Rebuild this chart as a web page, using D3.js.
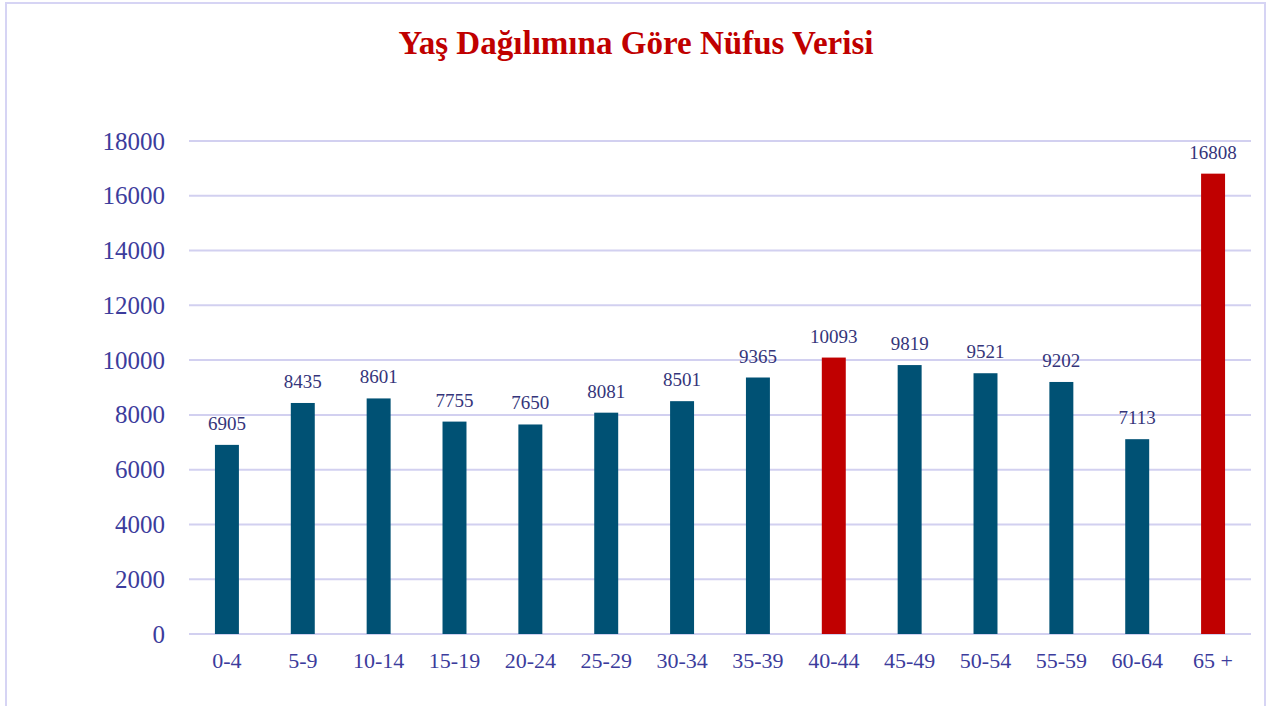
<!DOCTYPE html>
<html>
<head>
<meta charset="utf-8">
<script src="https://cdn.jsdelivr.net/npm/d3@7/dist/d3.min.js"></script>
<style>
  html, body { margin: 0; padding: 0; background: #fff; }
  svg { display: block; }
</style>
</head>
<body>
<div id="chart"></div>
<script>
// data
var ageGroups = ["0-4", "5-9", "10-14", "15-19", "20-24", "25-29", "30-34",
  "35-39", "40-44", "45-49", "50-54", "55-59", "60-64", "65 +"];
var population = [6905, 8435, 8601, 7755, 7650, 8081, 8501,
  9365, 10093, 9819, 9521, 9202, 7113, 16808];
var highlighted = ["40-44", "65 +"];
var yTicks = [0, 2000, 4000, 6000, 8000, 10000, 12000, 14000, 16000, 18000];
var chartTitle = "Yaş Dağılımına Göre Nüfus Verisi";

var width = 1270, height = 706;
var margin = {top: 141, right: 20, bottom: 72, left: 189};
var plotW = 1251 - margin.left, plotH = 634 - margin.top;

var svg = d3.select("#chart").append("svg")
  .attr("width", width)
  .attr("height", height);

// outer frame
svg.append("rect")
  .attr("x", 6).attr("y", 3)
  .attr("width", 1259).attr("height", 720)
  .attr("fill", "none")
  .attr("stroke", "#d6d4f4")
  .attr("stroke-width", 2);

// title
var title = svg.append("text")
  .attr("x", 636).attr("y", 54)
  .attr("text-anchor", "middle")
  .attr("font-family", "Liberation Serif, serif")
  .attr("font-weight", "bold")
  .attr("font-size", 32)
  .attr("fill", "#c00000")
  .text(chartTitle);
var tw = title.node().getComputedTextLength();
title.attr("font-size", 32 * 475 / tw);

var g = svg.append("g")
  .attr("transform", "translate(" + margin.left + "," + margin.top + ")");

var x = d3.scaleBand().domain(ageGroups).range([0, plotW]).paddingInner(0.684).paddingOuter(0.342);
var y = d3.scaleLinear().domain([0, 18000]).range([plotH, 0]);

// gridlines
g.selectAll(".grid")
  .data(yTicks)
  .enter().append("line")
  .attr("x1", 0).attr("x2", plotW)
  .attr("y1", function(d) { return y(d); })
  .attr("y2", function(d) { return y(d); })
  .attr("stroke", "#d2d0f0")
  .attr("stroke-width", 2);

// y axis labels
var yAxis = g.append("g")
  .call(d3.axisLeft(y).tickValues(yTicks).tickSize(0).tickPadding(24).tickFormat(d3.format("d")));
yAxis.select(".domain").remove();
yAxis.selectAll("text")
  .attr("font-family", "Liberation Serif, serif")
  .attr("font-size", 25)
  .attr("fill", "#3c3c9c");

// x axis labels
var xAxis = g.append("g")
  .attr("transform", "translate(0," + plotH + ")")
  .call(d3.axisBottom(x).tickSize(0).tickPadding(18));
xAxis.select(".domain").remove();
xAxis.selectAll("text")
  .attr("font-family", "Liberation Serif, serif")
  .attr("font-size", 22)
  .attr("fill", "#3c3c9c");

// bars
g.selectAll(".bar")
  .data(population)
  .enter().append("rect")
  .attr("x", function(d, i) { return x(ageGroups[i]); })
  .attr("y", function(d) { return y(d); })
  .attr("width", x.bandwidth())
  .attr("height", function(d) { return plotH - y(d); })
  .attr("fill", function(d, i) {
    return highlighted.indexOf(ageGroups[i]) >= 0 ? "#c00000" : "#005174";
  });

// value labels
g.selectAll(".val")
  .data(population)
  .enter().append("text")
  .attr("x", function(d, i) { return x(ageGroups[i]) + x.bandwidth() / 2; })
  .attr("y", function(d) { return y(d) - 15; })
  .attr("text-anchor", "middle")
  .attr("font-family", "Liberation Serif, serif")
  .attr("font-size", 19)
  .attr("fill", "#35357a")
  .text(function(d) { return d; });
</script>
</body>
</html>
